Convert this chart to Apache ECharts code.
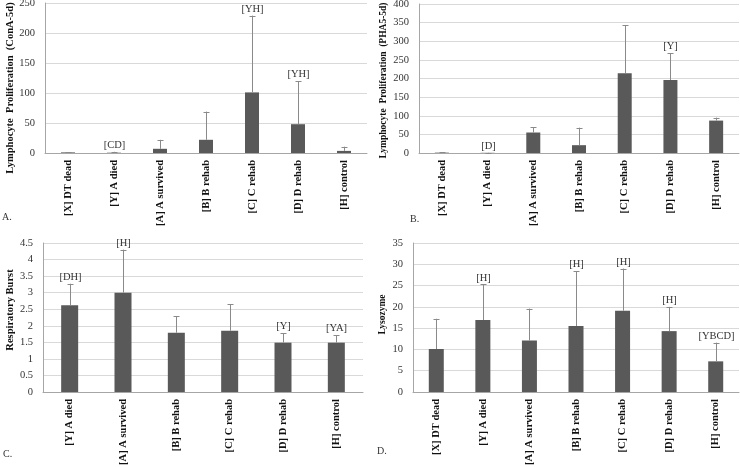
<!DOCTYPE html>
<html><head><meta charset="utf-8">
<script src="https://cdn.jsdelivr.net/npm/echarts@6/dist/echarts.min.js"></script>
<style>html,body{margin:0;padding:0;background:#fff}#c{width:740px;height:467px}</style>
</head><body><div id="c"></div>
<script>
// ---- Data ----
const catsFull = ['[X] DT dead','[Y] A died','[A] A survived','[B] B rehab','[C] C rehab','[D] D rehab','[H] control'];
const catsC = ['[Y] A died','[A] A survived','[B] B rehab','[C] C rehab','[D] D rehab','[H] control'];

// Panel A: Lymphocyte Proliferation (ConA-5d)
const meanA = [1, 0.5, 7, 22, 101, 48, 3.5];
const errA  = [0.5, 1.5, 15, 47, 128, 72, 7];
const sigA  = ['', '[CD]', '', '', '[YH]', '[YH]', ''];

// Panel B: Lymphocyte Proliferation (PHA5-5d)
const meanB = [1, 0.5, 55, 21, 214, 196, 87];
const errB  = [0.5, 0.5, 14, 47, 129, 72, 8];
const sigB  = ['', '[D]', '', '', '', '[Y]', ''];

// Panel C: Respiratory Burst
const meanC = [2.62, 3.0, 1.79, 1.85, 1.49, 1.49];
const errC  = [0.65, 1.3, 0.5, 0.8, 0.29, 0.23];
const sigC  = ['[DH]', '[H]', '', '', '[Y]', '[YA]'];

// Panel D: Lysozyme
const meanD = [10.1, 16.9, 12.1, 15.5, 19.1, 14.3, 7.2];
const errD  = [7.1, 8.4, 7.5, 12.9, 9.9, 5.7, 4.4];
const sigD  = ['', '[H]', '', '[H]', '[H]', '[H]', '[YBCD]'];

const yTicksA = {max: 250, interval: 50};
const yTicksB = {max: 400, interval: 50};
const yTicksC = {max: 4.5, interval: 0.5};
const yTicksD = {max: 35, interval: 5};

// ---- Styles ----
const SERIF = '"Liberation Serif","Times New Roman",serif';
const BAR = '#595959', ERR = '#8a8a8a', AXIS = '#a6a6a6', GRIDC = '#d9d9d9';

function errRenderer(sig){
  return function(params, api){
    const i = api.value(0), m = api.value(1), e = api.value(2);
    const b = api.coord([i, m]);
    const t = api.coord([i, m + e]);
    const x = Math.round(b[0]) + 0.5;
    const cap = 3;
    const children = [
      {type:'line', shape:{x1:x, y1:b[1], x2:x, y2:t[1]}, style:{stroke:ERR, lineWidth:1}},
      {type:'line', shape:{x1:x-cap, y1:Math.round(t[1])+0.5, x2:x+cap, y2:Math.round(t[1])+0.5}, style:{stroke:ERR, lineWidth:1}}
    ];
    const s = sig[params.dataIndex];
    if (s) children.push({type:'text', x: x, y: t[1]-1, style:{text:s, font:'10.5px ' + SERIF, fill:'#333', align:'center', verticalAlign:'bottom'}});
    return {type:'group', children};
  };
}

const grids = [
  {left:45, top:3, width:322, height:150, outerBoundsMode:'none', containLabel:false},
  {left:419, top:4, width:320, height:149, outerBoundsMode:'none', containLabel:false},
  {left:43, top:243, width:320, height:149, outerBoundsMode:'none', containLabel:false},
  {left:413, top:243, width:326, height:149, outerBoundsMode:'none', containLabel:false}
];

function xAx(idx, cats){
  return {type:'category', gridIndex:idx, data:cats,
    axisLine:{lineStyle:{color:AXIS}}, axisTick:{show:false},
    axisLabel:{rotate:90, margin:7, interval:0, color:'#111', fontFamily:SERIF, fontWeight:'bold', fontSize:10.5}};
}
function yAx(idx, t, name, gap, fs, pad){
  return {type:'value', gridIndex:idx, min:0, max:t.max, interval:t.interval,
    name:name, nameLocation:'middle', nameGap:gap,
    nameTextStyle:{fontFamily:SERIF, fontWeight:'bold', fontSize:fs, color:'#111', padding:pad},
    axisLine:{show:true, lineStyle:{color:AXIS}}, axisTick:{show:false},
    splitLine:{lineStyle:{color:GRIDC}},
    axisLabel:{color:'#333', fontFamily:SERIF, fontSize:10.5, margin:10}};
}

function barS(idx, data, w){
  return {type:'bar', xAxisIndex:idx, yAxisIndex:idx, data:data, barWidth:w,
    itemStyle:{color:BAR}, silent:true, animation:false};
}
function errS(idx, means, errs, sig){
  return {type:'custom', xAxisIndex:idx, yAxisIndex:idx, silent:true, animation:false,
    data: means.map((m,i)=>[i, m, errs[i]]),
    renderItem: errRenderer(sig), z:3};
}

const option = {
  animation:false,
  grid: grids,
  xAxis:[xAx(0,catsFull), xAx(1,catsFull), xAx(2,catsC), xAx(3,catsFull)],
  yAxis:[
    yAx(0, yTicksA, 'Lymphocyte  Proliferation  (ConA-5d)', 29, 10.5, [0,20,0,0]),
    yAx(1, yTicksB, 'Lymphocyte  Proliferation  (PHA5-5d)', 30, 9.5, [0,4,0,0]),
    yAx(2, yTicksC, 'Respiratory Burst', 27, 10.5, [0,0,0,15]),
    yAx(3, yTicksD, 'Lysozyme', 25, 9.5, [0,0,0,6])
  ],
  series:[
    barS(0, meanA, 14), errS(0, meanA, errA, sigA),
    barS(1, meanB, 14), errS(1, meanB, errB, sigB),
    barS(2, meanC, 17), errS(2, meanC, errC, sigC),
    barS(3, meanD, 15), errS(3, meanD, errD, sigD)
  ],
  graphic:[
    {type:'text', left:2, top:212, style:{text:'A.', font:'10px '+SERIF, fill:'#333'}},
    {type:'text', left:410, top:214, style:{text:'B.', font:'10px '+SERIF, fill:'#333'}},
    {type:'text', left:3, top:449, style:{text:'C.', font:'10px '+SERIF, fill:'#333'}},
    {type:'text', left:377, top:446, style:{text:'D.', font:'10px '+SERIF, fill:'#333'}}
  ]
};
const chart = echarts.init(document.getElementById('c'), null, {renderer:'canvas'});
chart.setOption(option);
</script>
</body></html>
